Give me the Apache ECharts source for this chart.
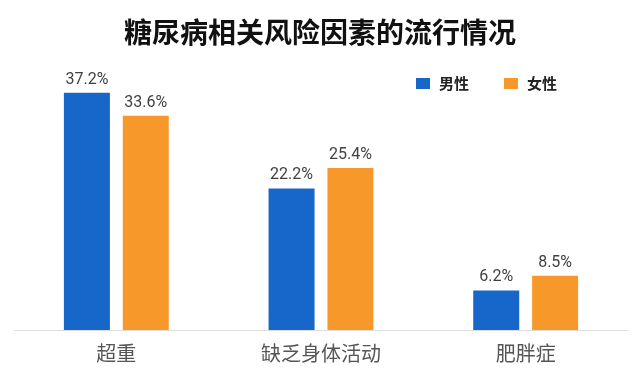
<!DOCTYPE html>
<html>
<head>
<meta charset="utf-8">
<title>糖尿病相关风险因素的流行情况</title>
<script src="https://cdn.jsdelivr.net/npm/echarts@6/dist/echarts.min.js"></script>
<style>
    html, body { margin: 0; padding: 0; background: #fff; }
    #main { width: 640px; height: 378px; }
</style>
</head>
<body>
<div id="main"></div>
<script>
// 数据
var categories = ['超重', '缺乏身体活动', '肥胖症'];
var maleData = [37.2, 22.2, 6.2];
var femaleData = [33.6, 25.4, 8.5];
var seriesNames = ['男性', '女性'];

var chart = echarts.init(document.getElementById('main'));
var fontCJK = '"Noto Sans CJK SC", sans-serif';

var valueLabel = {
    show: true,
    position: 'top',
    distance: 5,
    color: '#404040',
    fontSize: 16,
    fontFamily: 'Roboto, "Noto Sans", sans-serif',
    formatter: '{c}%'
};

var option = {
    backgroundColor: '#fff',
    animation: false,
    title: {
        text: '糖尿病相关风险因素的流行情况',
        left: 'center',
        top: 13,
        textStyle: {
            fontSize: 28,
            fontWeight: 'bold',
            color: '#111',
            fontFamily: fontCJK
        }
    },
    legend: {
        data: seriesNames,
        left: 411,
        top: 71,
        itemWidth: 14,
        itemHeight: 11,
        itemGap: 35,
        icon: 'rect',
        textStyle: {
            fontSize: 15,
            fontWeight: 'bold',
            color: '#222',
            fontFamily: fontCJK,
            padding: [0, 0, 0, 4]
        }
    },
    grid: {
        left: 14,
        right: 12,
        top: 75,
        bottom: 48,
        containLabel: false
    },
    xAxis: {
        type: 'category',
        data: categories,
        axisLine: { lineStyle: { color: '#ddd', width: 1 } },
        axisTick: { show: false },
        axisLabel: {
            margin: 13,
            fontSize: 20,
            color: '#555',
            fontFamily: fontCJK
        }
    },
    yAxis: {
        type: 'value',
        min: 0,
        max: 40,
        show: false,
        splitLine: { show: false }
    },
    series: [
        {
            name: seriesNames[0],
            type: 'bar',
            data: maleData,
            barWidth: 46,
            barGap: '28%',
            itemStyle: { color: '#1766c9' },
            label: valueLabel
        },
        {
            name: seriesNames[1],
            type: 'bar',
            data: femaleData,
            barWidth: 46,
            itemStyle: { color: '#f7982b' },
            label: valueLabel
        }
    ]
};

chart.setOption(option);
</script>
</body>
</html>
